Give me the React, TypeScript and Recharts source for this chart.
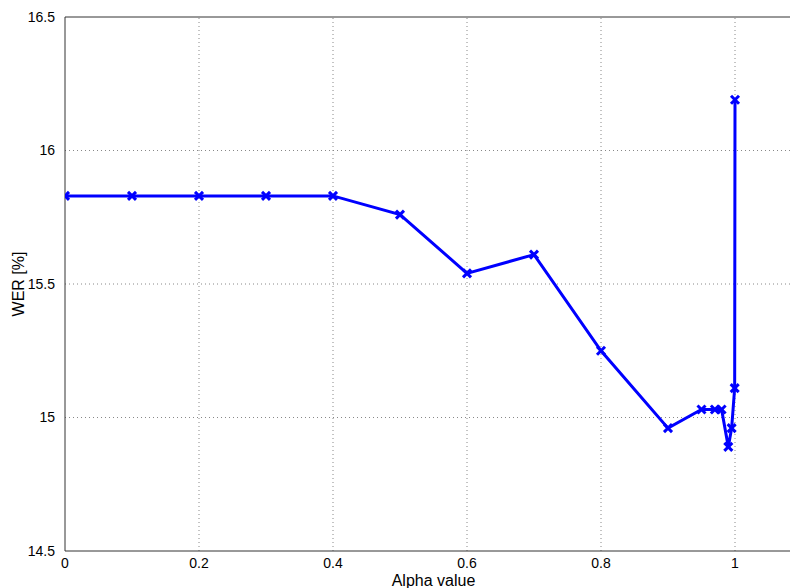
import React from "react";
import {
  LineChart,
  Line,
  XAxis,
  YAxis,
  ReferenceLine,
  Label,
} from "recharts";

const alphas = [
  0, 0.1, 0.2, 0.3, 0.4, 0.5, 0.6, 0.7, 0.8, 0.9, 0.95, 0.97, 0.98, 0.99,
  0.995, 0.9995, 1,
];
const wer = [
  15.83, 15.83, 15.83, 15.83, 15.83, 15.76, 15.54, 15.61, 15.25, 14.96, 15.03,
  15.03, 15.03, 14.89, 14.96, 15.11, 16.19,
];
const xTicks = [0, 0.2, 0.4, 0.6, 0.8, 1];
const yTicks = [14.5, 15, 15.5, 16, 16.5];

const data = alphas.map((a, i) => ({ alpha: a, wer: wer[i] }));

const font = "Arial, 'Liberation Sans', sans-serif";

const Cross = (props: any) => {
  const { cx, cy } = props;
  if (cx == null || cy == null) return null;
  const s = 4;
  return (
    <g>
      <line x1={cx - s} y1={cy - s} x2={cx + s} y2={cy + s} stroke="#0000ff" strokeWidth={3} />
      <line x1={cx - s} y1={cy + s} x2={cx + s} y2={cy - s} stroke="#0000ff" strokeWidth={3} />
    </g>
  );
};

const App = () => {
  return (
    <div
      style={{
        position: "absolute",
        left: 0,
        top: 0,
        width: 792,
        height: 588,
        overflow: "hidden",
        background: "#fff",
      }}
    >
      <LineChart
        width={804}
        height={588}
        data={data}
        margin={{ top: 17, right: 2, bottom: 0, left: 0 }}
      >
        {xTicks.slice(1).map((t) => (
          <ReferenceLine key={"vx" + t} x={t} stroke="#888" strokeDasharray="1 3" />
        ))}
        {yTicks.slice(1, -1).map((t) => (
          <ReferenceLine key={"hy" + t} y={t} stroke="#888" strokeDasharray="1 3" />
        ))}
        <ReferenceLine y={16.5} stroke="#333" />
        <XAxis
          dataKey="alpha"
          type="number"
          domain={[0, 1.1]}
          ticks={xTicks}
          allowDataOverflow
          height={37}
          stroke="#333"
          tickLine={false}
          tick={{ fill: "#000", fontSize: 14, fontFamily: font }}
          tickMargin={1}
        >
          <Label
            value="Alpha value"
            position="insideBottom"
            offset={2}
            style={{ fill: "#000", fontSize: 16, fontFamily: font }}
          />
        </XAxis>
        <YAxis
          type="number"
          domain={[14.5, 16.5]}
          ticks={yTicks}
          allowDataOverflow
          width={65}
          stroke="#333"
          tickLine={false}
          tick={{ fill: "#000", fontSize: 14, fontFamily: font }}
          tickMargin={4}
        >
          <Label
            value="WER [%]"
            angle={-90}
            position="insideLeft"
            offset={18}
            style={{ fill: "#000", fontSize: 16, fontFamily: font, textAnchor: "middle" }}
          />
        </YAxis>
        <Line
          type="linear"
          dataKey="wer"
          stroke="#0000ff"
          strokeWidth={3}
          dot={<Cross />}
          activeDot={false}
          isAnimationActive={false}
        />
      </LineChart>
      {/* hide the clipped edge */}
      <div
        style={{
          position: "absolute",
          right: 0,
          top: 0,
          width: 2,
          height: 588,
          background: "#fff",
          zIndex: 10,
        }}
      />
    </div>
  );
};

export default App;
